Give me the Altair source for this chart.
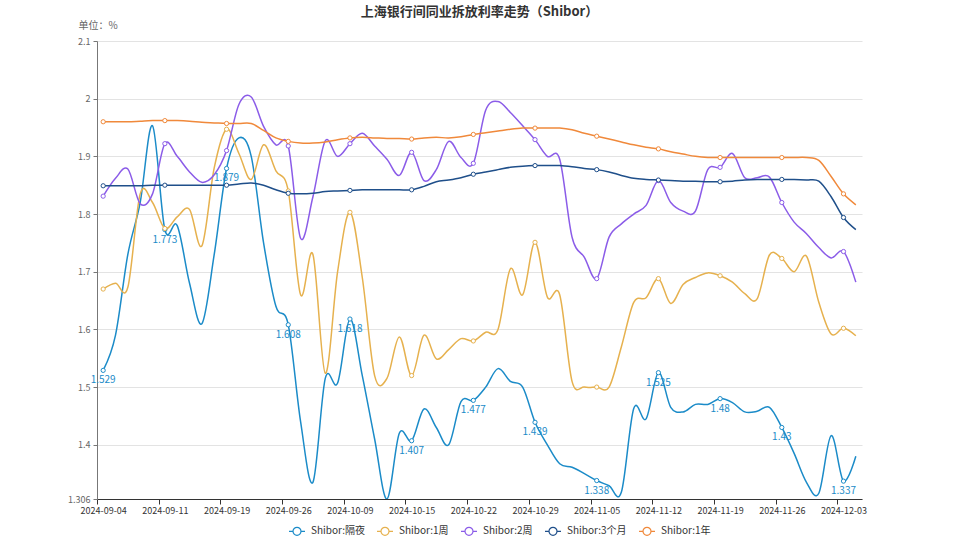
import altair as alt
import pandas as pd

dates = [
    "2024-09-04", "2024-09-05", "2024-09-06", "2024-09-09", "2024-09-10", "2024-09-11", "2024-09-12",
    "2024-09-13", "2024-09-14", "2024-09-18", "2024-09-19", "2024-09-20", "2024-09-23", "2024-09-24",
    "2024-09-25", "2024-09-26", "2024-09-27", "2024-09-29", "2024-09-30",
    "2024-10-08", "2024-10-09", "2024-10-10", "2024-10-11", "2024-10-12", "2024-10-14", "2024-10-15",
    "2024-10-16", "2024-10-17", "2024-10-18", "2024-10-21", "2024-10-22", "2024-10-23", "2024-10-24",
    "2024-10-25", "2024-10-28", "2024-10-29", "2024-10-30", "2024-10-31",
    "2024-11-01", "2024-11-04", "2024-11-05", "2024-11-06", "2024-11-07", "2024-11-08", "2024-11-11",
    "2024-11-12", "2024-11-13", "2024-11-14", "2024-11-15", "2024-11-18", "2024-11-19", "2024-11-20",
    "2024-11-21", "2024-11-22", "2024-11-25", "2024-11-26", "2024-11-27", "2024-11-28", "2024-11-29",
    "2024-12-02", "2024-12-03", "2024-12-04",
]

overnight = [1.529, 1.59, 1.73, 1.82, 1.953, 1.773, 1.78, 1.68, 1.61, 1.73,
             1.879, 1.932, 1.90, 1.75, 1.64, 1.608, 1.44, 1.335, 1.515, 1.507,
             1.618, 1.52, 1.41, 1.306, 1.42, 1.407, 1.462, 1.43, 1.40, 1.475,
             1.477, 1.50, 1.532, 1.51, 1.50, 1.439, 1.40, 1.367, 1.361, 1.35,
             1.338, 1.329, 1.318, 1.463, 1.445, 1.525, 1.465, 1.457, 1.47, 1.47,
             1.48, 1.473, 1.457, 1.458, 1.465, 1.43, 1.385, 1.335, 1.316, 1.416,
             1.337, 1.38]

week1 = [1.67, 1.68, 1.673, 1.835, 1.82, 1.775, 1.795, 1.808, 1.745, 1.88,
         1.947, 1.905, 1.86, 1.92, 1.875, 1.84, 1.66, 1.73, 1.524, 1.70,
         1.803, 1.69, 1.52, 1.515, 1.587, 1.52, 1.59, 1.549, 1.565, 1.584,
         1.58, 1.595, 1.60, 1.705, 1.66, 1.751, 1.656, 1.66, 1.51, 1.50,
         1.50, 1.50, 1.57, 1.647, 1.655, 1.688, 1.645, 1.678, 1.69, 1.698,
         1.693, 1.682, 1.662, 1.653, 1.729, 1.723, 1.70, 1.727, 1.647, 1.592,
         1.602, 1.589]

week2 = [1.831, 1.862, 1.878, 1.818, 1.835, 1.922, 1.90, 1.873, 1.855, 1.868,
         1.91, 1.99, 2.003, 1.952, 1.92, 1.918, 1.758, 1.83, 1.927, 1.90,
         1.922, 1.94, 1.918, 1.895, 1.867, 1.907, 1.858, 1.877, 1.926, 1.898,
         1.888, 1.98, 1.995, 1.976, 1.953, 1.929, 1.90, 1.895, 1.76, 1.725,
         1.688, 1.76, 1.783, 1.80, 1.815, 1.858, 1.82, 1.805, 1.805, 1.877,
         1.881, 1.905, 1.863, 1.863, 1.864, 1.82, 1.786, 1.766, 1.742, 1.724,
         1.735, 1.682]

month3 = [1.849, 1.849, 1.849, 1.849, 1.85, 1.85, 1.85, 1.85, 1.85, 1.85,
          1.85, 1.852, 1.854, 1.85, 1.842, 1.836, 1.835, 1.836, 1.839, 1.84,
          1.841, 1.842, 1.842, 1.842, 1.842, 1.842, 1.848, 1.856, 1.859, 1.863,
          1.869, 1.873, 1.877, 1.881, 1.883, 1.884, 1.884, 1.884, 1.882, 1.879,
          1.877, 1.873, 1.867, 1.862, 1.86, 1.859, 1.858, 1.857, 1.857, 1.856,
          1.856, 1.857, 1.859, 1.86, 1.86, 1.86, 1.86, 1.859, 1.857, 1.83,
          1.794, 1.773]

year1 = [1.96, 1.96, 1.96, 1.961, 1.962, 1.962, 1.962, 1.961, 1.959, 1.958,
         1.957, 1.957, 1.957, 1.945, 1.932, 1.926, 1.923, 1.923, 1.925, 1.929,
         1.932, 1.933, 1.932, 1.931, 1.931, 1.93, 1.932, 1.933, 1.932, 1.934,
         1.938, 1.941, 1.944, 1.947, 1.949, 1.949, 1.949, 1.949, 1.946, 1.94,
         1.935, 1.93, 1.925, 1.92, 1.916, 1.913, 1.908, 1.904, 1.90, 1.898,
         1.898, 1.898, 1.898, 1.898, 1.898, 1.898, 1.898, 1.898, 1.893, 1.865,
         1.835, 1.816]

series_names = ["Shibor:隔夜", "Shibor:1周", "Shibor:2周", "Shibor:3个月", "Shibor:1年"]
series_colors = ["#1b8bc8", "#e6b14e", "#8b5ce8", "#1f4f8a", "#f0893b"]
y_ticks = [1.306, 1.4, 1.5, 1.6, 1.7, 1.8, 1.9, 2.0, 2.1]

rows = []
for name, vals in zip(series_names, [overnight, week1, week2, month3, year1]):
    for i, (d, v) in enumerate(zip(dates, vals)):
        rows.append({"idx": i, "date": d, "series": name, "value": v})
df = pd.DataFrame(rows)

FONT = "Noto Sans CJK SC"
W, H = 765, 458
step = W / len(dates)

x_enc = alt.X(
    "date:O", sort=dates,
    scale=alt.Scale(type="point", padding=0.5),
    axis=alt.Axis(values=dates[::5], title=None, labelAngle=0, tickOffset=-step / 2,
                  labelOffset=step / 2, labelFontSize=9, labelColor="#333333",
                  domainColor="#333333", tickColor="#333333", tickSize=5, labelPadding=2,
                  grid=False, labelFont=FONT),
)
y_enc = alt.Y(
    "value:Q",
    scale=alt.Scale(domain=[1.306, 2.1], nice=False, zero=False),
    axis=alt.Axis(values=y_ticks, labelExpr="format(datum.value, '.4~g')", title="单位：%",
                  titleAngle=0, titleX=-19, titleY=-16, titleAlign="left",
                  titleBaseline="middle", titleFontSize=10, titleFontWeight="normal",
                  titleColor="#666666", titleFont=FONT, labelFontSize=9, labelColor="#666666",
                  labelFont=FONT, domainColor="#777777", tickColor="#777777", tickSize=4,
                  labelPadding=3, grid=True, gridColor="#e3e3e3", gridWidth=1),
)
color_enc = alt.Color(
    "series:N",
    scale=alt.Scale(domain=series_names, range=series_colors),
    legend=alt.Legend(
        title=None, orient="none", legendX=191, legendY=481, direction="horizontal",
        symbolType="M-1,0L-0.5,0M0.5,0L1,0M0.5,0A0.5,0.5,0,1,1,-0.5,0A0.5,0.5,0,1,1,0.5,0",
        symbolSize=256, symbolStrokeWidth=1.2, labelFontSize=10, labelColor="#333333",
        labelFont=FONT, columnPadding=9, labelOffset=5,
    ),
)

base = alt.Chart(df)
lines = base.mark_line(interpolate="cardinal", strokeWidth=1.5, clip=True).encode(
    x=x_enc, y=y_enc, color=color_enc)
points = base.transform_filter("datum.idx % 5 == 0").mark_point(
    filled=False, fill="white", fillOpacity=1, size=18, strokeWidth=1, opacity=1).encode(
    x=x_enc, y=y_enc,
    color=alt.Color("series:N", scale=alt.Scale(domain=series_names, range=series_colors),
                    legend=None))
labels = base.transform_filter(
    "datum.idx % 5 == 0 && datum.series == 'Shibor:隔夜'").mark_text(
    dy=10, fontSize=10, color=series_colors[0], font=FONT).encode(
    x=x_enc, y=y_enc, text=alt.Text("value:Q", format="~g"))

chart = alt.layer(lines, points, labels).properties(
    width=W, height=H,
    autosize=alt.AutoSizeParams(type="none"),
    padding={"left": 97, "top": 41, "right": 96, "bottom": 40},
    background="white",
    title=alt.TitleParams("上海银行间同业拆放利率走势（Shibor）", fontSize=13, fontWeight="bold",
                          color="#333333", font=FONT, anchor="middle", offset=1),
).configure_view(stroke=None)

chart.save("out.html", embed_options={"renderer": "svg", "actions": False})
